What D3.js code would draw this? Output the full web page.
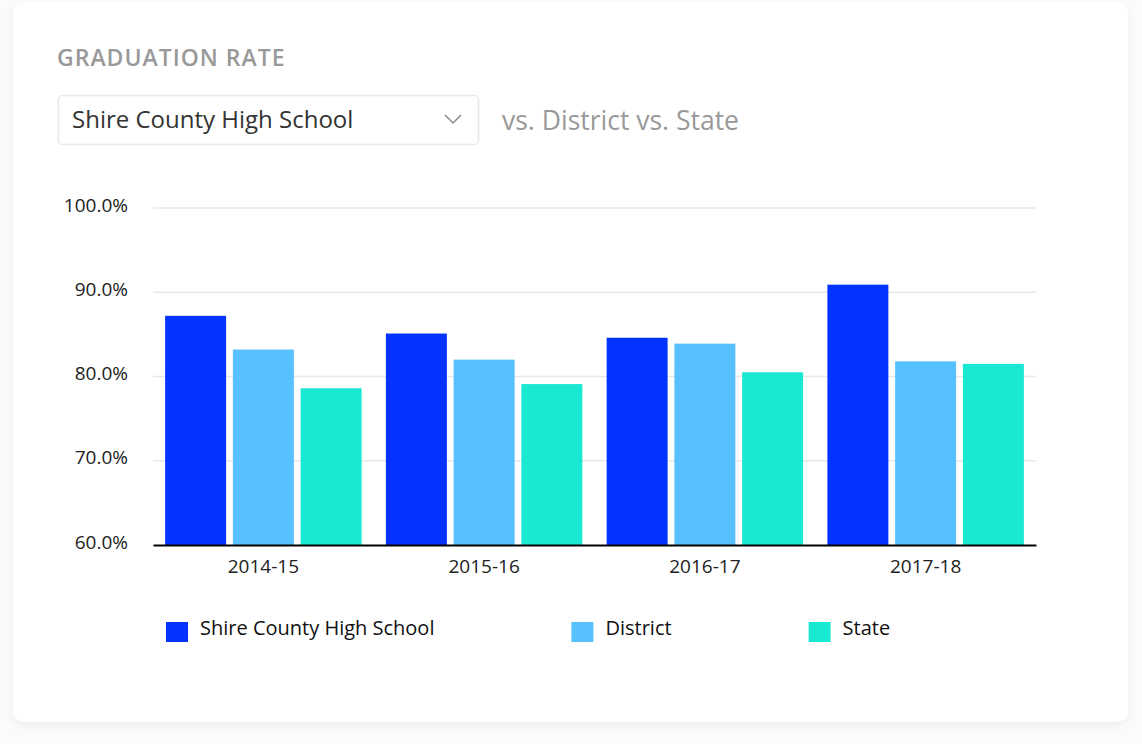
<!DOCTYPE html>
<html><head>
<meta charset="utf-8">
<title>Graduation Rate</title>
<script src="https://d3js.org/d3.v7.min.js"></script>
<style>
  html, body { margin: 0; padding: 0; background: #fbfbfb; font-family: "Open Sans", sans-serif; }
  #card {
    position: absolute; left: 13px; top: 2px; width: 1115px; height: 720px;
    background: #fff; border-radius: 10px;
    box-shadow: 0 3px 10px rgba(0,0,0,0.06);
  }
  #chart { position: absolute; left: 0; top: 0; }
</style>
</head>
<body>
<div id="card"></div>
<div id="chart"></div>

<script>
// data
var years = ["2014-15", "2015-16", "2016-17", "2017-18"];
var seriesNames = ["Shire County High School", "District", "State"];
var schoolRate = [87.2, 85.1, 84.6, 90.9];
var districtRate = [83.2, 82.0, 83.9, 81.8];
var stateRate = [78.6, 79.1, 80.5, 81.5];
var yTicks = [60, 70, 80, 90, 100];
var colors = ["#0433ff", "#57c0ff", "#19e8d2"];

var allSeries = [schoolRate, districtRate, stateRate];

var svg = d3.select("#chart").append("svg")
    .attr("width", 1142)
    .attr("height", 744);

// header
svg.append("text")
    .attr("x", 57).attr("y", 66)
    .style("font-size", "23px")
    .style("font-weight", 600)
    .style("letter-spacing", "1px")
    .attr("fill", "#999")
    .text("GRADUATION RATE");

svg.append("rect")
    .attr("x", 58.5).attr("y", 95.5)
    .attr("width", 420).attr("height", 49)
    .attr("rx", 4)
    .attr("fill", "#fff")
    .attr("stroke", "#e8e8e8")
    .attr("stroke-width", 1.5);

svg.append("text")
    .attr("x", 72).attr("y", 128)
    .style("font-size", "24px")
    .attr("fill", "#333")
    .text(seriesNames[0]);

svg.append("path")
    .attr("d", "M445,115 L453,123 L461,115")
    .attr("fill", "none")
    .attr("stroke", "#888")
    .attr("stroke-width", 1.5);

svg.append("text")
    .attr("x", 502).attr("y", 130)
    .style("font-size", "26.5px")
    .attr("fill", "#999")
    .text("vs. District vs. State");

// chart
var margin = {left: 153, right: 106, top: 208, bottom: 199};
var width = 1142 - margin.left - margin.right;
var height = 744 - margin.top - margin.bottom;

var g = svg.append("g")
    .attr("transform", "translate(" + margin.left + "," + margin.top + ")");

var x0 = d3.scaleBand()
    .domain(years)
    .range([0, width])
    .paddingInner(0.11)
    .paddingOuter(0.055);

var x1 = d3.scaleBand()
    .domain(d3.range(seriesNames.length))
    .range([0, x0.bandwidth()])
    .paddingInner(0.1);

var y = d3.scaleLinear()
    .domain([60, 100])
    .range([height, 0]);

// grid
g.append("g")
    .selectAll("line")
    .data(yTicks.slice(1))
    .enter().append("line")
    .attr("x1", 0).attr("x2", width)
    .attr("y1", function(d) { return y(d); })
    .attr("y2", function(d) { return y(d); })
    .attr("stroke", "#e8e8e8")
    .attr("stroke-width", 1.5);

var yAxis = d3.axisLeft(y)
    .tickValues(yTicks)
    .tickSize(0)
    .tickPadding(25)
    .tickFormat(function(d) { return d.toFixed(1) + "%"; });

var yG = g.append("g").call(yAxis);
yG.select(".domain").remove();
yG.selectAll("text")
    .attr("dy", "0.16em")
    .style("font-family", "Open Sans")
    .style("font-size", "19px")
    .attr("fill", "#222");

// bars
var groups = g.selectAll(".grp")
    .data(years)
    .enter().append("g")
    .attr("transform", function(d) { return "translate(" + x0(d) + ",0)"; });

groups.selectAll("rect")
    .data(function(d, i) { return allSeries.map(function(s, k) { return {k: k, v: s[i]}; }); })
    .enter().append("rect")
    .attr("x", function(d) { return x1(d.k); })
    .attr("width", x1.bandwidth())
    .attr("y", function(d) { return y(d.v); })
    .attr("height", function(d) { return height - y(d.v); })
    .attr("fill", function(d) { return colors[d.k]; });

var xAxis = d3.axisBottom(x0).tickSize(0).tickPadding(15);
var xG = g.append("g")
    .attr("transform", "translate(0," + height + ")")
    .call(xAxis);
xG.select(".domain").attr("stroke", "#000").attr("stroke-width", 2);
xG.selectAll("text")
    .style("font-family", "Open Sans")
    .style("font-size", "19px")
    .attr("fill", "#222");

// legend
var legend = svg.append("g").attr("transform", "translate(166,622)");
var lx = 0;
seriesNames.forEach(function(name, k) {
  var item = legend.append("g").attr("transform", "translate(" + lx + ",0)");
  item.append("rect")
      .attr("width", 22).attr("height", 20)
      .attr("fill", colors[k]);
  var t = item.append("text")
      .attr("x", 34).attr("y", 13)
      .style("font-size", "20px")
      .attr("fill", "#111")
      .text(name);
  lx += 34 + t.node().getComputedTextLength() + 137;
});
</script>
</body></html>
